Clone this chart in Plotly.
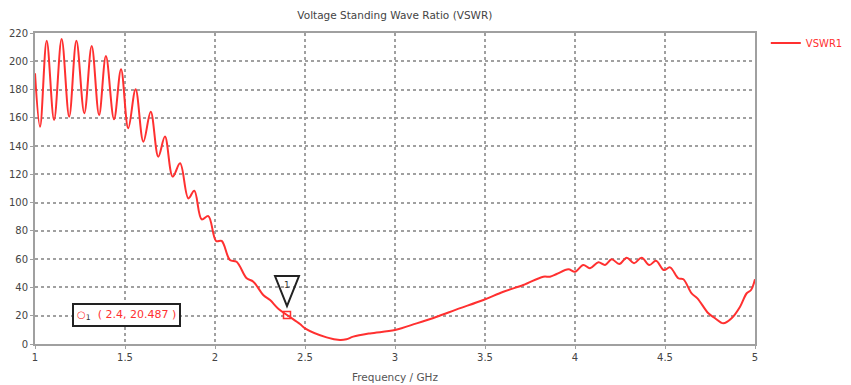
import plotly.graph_objects as go

# VSWR trace sampled across the sweep (GHz)
freq = [1.000, 1.028, 1.065, 1.106, 1.148, 1.190, 1.230, 1.274, 1.315, 1.356,
        1.394, 1.439, 1.478, 1.518, 1.559, 1.602, 1.643, 1.685, 1.722, 1.765,
        1.806, 1.852, 1.885, 1.926, 1.963, 2.006, 2.037, 2.083, 2.120, 2.176,
        2.213, 2.268, 2.306, 2.350, 2.400, 2.472, 2.500, 2.620, 2.694, 2.730,
        2.768, 2.861, 3.000, 3.120, 3.232, 3.343, 3.491, 3.602, 3.713, 3.824,
        3.861, 3.898, 3.963, 4.000, 4.046, 4.083, 4.130, 4.167, 4.204, 4.246,
        4.287, 4.328, 4.370, 4.413, 4.450, 4.494, 4.528, 4.574, 4.602, 4.648,
        4.680, 4.741, 4.778, 4.824, 4.870, 4.917, 4.954, 4.978, 5.000]
vswr = [191.5, 153.7, 214.6, 158.5, 215.8, 160.8, 214.6, 163.2, 210.8, 162.0,
        203.7, 159.0, 194.3, 152.6, 180.2, 143.1, 164.3, 132.5, 146.7, 118.4,
        127.8, 103.0, 108.4, 88.2, 90.5, 72.9, 72.9, 59.4, 58.2, 46.5,
        44.1, 34.7, 31.1, 25.2, 20.487, 14.1, 11.1, 4.7, 2.8, 3.3,
        5.2, 7.5, 9.9, 14.6, 19.3, 24.5, 31.1, 37.0, 41.7, 47.6,
        47.6, 49.5, 52.8, 51.1, 55.9, 53.6, 57.8, 55.9, 59.9, 56.6,
        61.1, 57.1, 61.1, 55.9, 58.9, 52.3, 54.2, 46.5, 45.8, 35.8,
        32.3, 21.7, 18.2, 14.6, 18.2, 26.4, 35.9, 38.2, 45.8]

x_ticks = [1, 1.5, 2, 2.5, 3, 3.5, 4, 4.5, 5]
x_tick_text = ["1", "1.5", "2", "2.5", "3", "3.5", "4", "4.5", "5"]
y_ticks = list(range(0, 221, 20))

marker_freq = 2.4
marker_vswr = 20.487

RED = "#ff3030"
FONT = "DejaVu Sans"

fig = go.Figure()

fig.add_trace(go.Scatter(
    x=freq, y=vswr, mode="lines", name="VSWR1",
    line=dict(color=RED, width=2, shape="spline", smoothing=1.0),
))

# marker point on the curve
fig.add_trace(go.Scatter(
    x=[marker_freq], y=[marker_vswr], mode="markers", showlegend=False,
    marker=dict(symbol="square-open", size=7, color=RED, line=dict(width=1.5, color=RED)),
    hoverinfo="skip",
))

# inverted triangle flag above the marker
fig.add_shape(
    type="path", xref="x", yref="y",
    xsizemode="pixel", ysizemode="pixel",
    xanchor=marker_freq, yanchor=marker_vswr,
    path="M -12,39 L 12,39 L 0,9 Z",
    line=dict(color="#222222", width=2), fillcolor="rgba(255,255,255,0)",
)
fig.add_annotation(
    x=marker_freq, y=marker_vswr, xref="x", yref="y", yshift=30,
    text="1", showarrow=False, font=dict(family=FONT, size=9, color="#333333"),
)

# marker readout box
fig.add_annotation(
    xref="paper", yref="paper", x=0.051, y=0.093, xanchor="left", yanchor="middle",
    text=f'<span style="font-size:10px">○</span><sub><span style="color:#333">1</span></sub>'
         f'&nbsp;&nbsp;( {marker_freq:g}, {marker_vswr:.3f} )',
    showarrow=False, align="left",
    font=dict(family=FONT, size=11, color=RED),
    bordercolor="#222222", borderwidth=2, borderpad=3, bgcolor="white",
)

axis_common = dict(
    showline=True, mirror=True, linecolor="#a0a0a0", linewidth=2,
    showgrid=True, gridcolor="#a0a0a0", gridwidth=1.5, griddash="dot",
    zeroline=False, ticks="outside", ticklen=3, tickcolor="#a0a0a0",
    tickfont=dict(family=FONT, size=10, color="#444444"),
)

fig.update_layout(
    width=851, height=385,
    margin=dict(l=35, r=96, t=33, b=41, autoexpand=False),
    paper_bgcolor="white", plot_bgcolor="white",
    title=dict(text="Voltage Standing Wave Ratio (VSWR)", x=0.464, xanchor="center",
               y=0.961, yanchor="middle",
               font=dict(family=FONT, size=10.5, color="#444444")),
    xaxis=dict(range=[1, 5], tickvals=x_ticks, ticktext=x_tick_text,
               title=dict(text="Frequency / GHz", standoff=12,
                          font=dict(family=FONT, size=10.5, color="#555555")),
               **axis_common),
    yaxis=dict(range=[0, 220], tickvals=y_ticks, **axis_common),
    legend=dict(x=1.015, y=0.968, xanchor="left", yanchor="middle",
                font=dict(family=FONT, size=10, color=RED),
                bgcolor="rgba(0,0,0,0)", itemwidth=30),
    showlegend=True,
)

fig.write_html("out.html")
